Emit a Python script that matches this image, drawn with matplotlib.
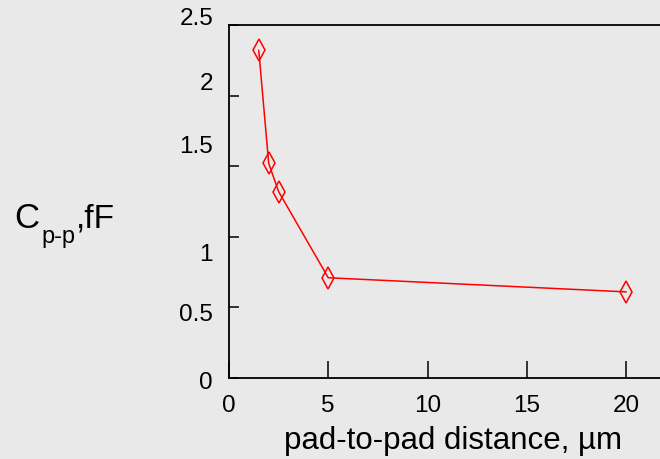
import matplotlib
matplotlib.use("Agg")
import matplotlib.pyplot as plt

# data
distance = [1.5, 2.0, 2.5, 5.0, 20.0]
cap = [2.32, 1.52, 1.32, 0.71, 0.61]

x_ticks = [0, 5, 10, 15, 20]
y_ticks = [0, 0.5, 1, 1.5, 2, 2.5]
y_tick_labels = ["0", "0.5", "1", "1.5", "2", "2.5"]
# vertical shift of each y label (points), the original has them misplaced
y_label_shift = [-3.6, -5.8, -13, 14, 8.3, 4.3]

plt.rcParams["font.family"] = ["Liberation Sans", "DejaVu Sans"]

W, H = 660, 459
fig = plt.figure(figsize=(W / 100, H / 100), dpi=100)
fig.patch.set_facecolor("#e9e9e9")


def fx(px):
    return px / W


def fy(py):
    return 1 - py / H


ax = fig.add_axes([fx(229), fy(378), 22 * 19.85 / W, 353 / H])
ax.set_facecolor("none")

ax.plot(distance, cap, color="red", lw=1.1, marker="d", ms=11,
        mfc="none", mec="red", mew=1.1)

ax.set_xlim(0, 22)
ax.set_ylim(0, 2.5)
for s in ax.spines.values():
    s.set_linewidth(1.3)
    s.set_color("black")

ax.set_xticks(x_ticks)
ax.set_xticklabels([str(t) for t in x_ticks], fontsize=17.5)
ax.tick_params(axis="x", direction="in", length=12, width=1.1, pad=12.5)
ax.set_yticks(y_ticks)
ax.set_yticklabels([])
ax.tick_params(axis="y", direction="in", length=7, width=1.1,
               left=True, right=False)

for v, lbl, dy in zip(y_ticks, y_tick_labels, y_label_shift):
    ax.annotate(lbl, xy=(0, v), xycoords=("axes fraction", "data"),
                xytext=(-11.5, dy), textcoords="offset points",
                ha="right", va="center", fontsize=17.5)

ax.set_xlabel("pad-to-pad distance, \u00b5m", fontsize=22.5)
ax.xaxis.set_label_coords((452.5 - 229) / (22 * 19.85), (378 - 426) / 353)

# y label built from pieces: C, subscript p-p, ",fF"
fig.text(fx(14), fy(228), "C", fontsize=25, va="baseline", ha="left")
fig.text(fx(41), fy(243), "p-p", fontsize=17, va="baseline", ha="left")
fig.text(fx(76), fy(228), ",fF", fontsize=24, va="baseline", ha="left")

fig.savefig("out.png", dpi=100, facecolor=fig.get_facecolor())
